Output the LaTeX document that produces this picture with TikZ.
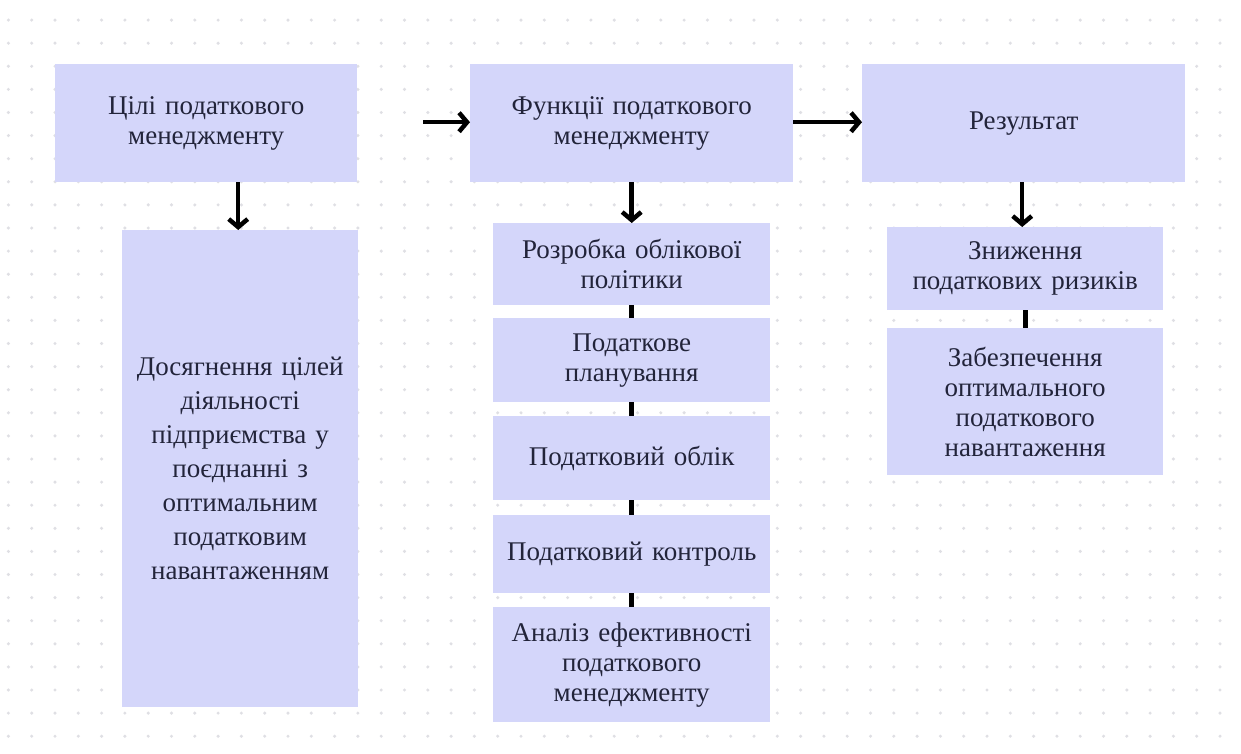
\documentclass[tikz,border=0pt]{standalone}
\usepackage{fontspec}
\setmainfont{Liberation Serif}
\usetikzlibrary{arrows.meta,calc}
\definecolor{boxfill}{HTML}{D4D6FA}
\definecolor{ink}{HTML}{22243A}
\definecolor{dotgray}{HTML}{DFDFE4}
\tikzset{
  block/.style={fill=boxfill, draw=none, anchor=north west, inner sep=4pt,
    align=center, text=ink, font=\fontsize{27}{30}\selectfont},
  flow/.style={line width=4.5pt, draw=black,
    -{Straight Barb[length=8pt,width=19pt,line width=4.5pt]}},
  joint/.style={line width=5pt, draw=black}
}
\begin{document}
\begin{tikzpicture}[x=1pt,y=-1pt]
  % canvas
  \fill[white] (0,0) rectangle (1241,754);
  \useasboundingbox (0,0) rectangle (1241,754);
  % dotted background grid
  \foreach \i in {0,...,52}{
    \foreach \j in {0,...,32}{
      \fill[dotgray] (8.4+23.3*\i, -3+23.1*\j) circle (1.7);
    }
  }
  % top row
  \node[block, minimum width=302pt, minimum height=118pt, text width=280pt] (goal) at (55,64)
    {Цілі податкового\\менеджменту};
  \node[block, minimum width=323pt, minimum height=118pt, text width=300pt] (func) at (470,64)
    {Функції податкового\\менеджменту};
  \node[block, minimum width=323pt, minimum height=118pt, text width=300pt] (res) at (862,64)
    {Результат};
  % left column
  \node[block, minimum width=236pt, minimum height=477pt, text width=226pt,
        font=\fontsize{27}{34}\selectfont] (aim) at (122,230)
    {Досягнення цілей\\діяльності\\підприємства у\\поєднанні з\\оптимальним\\податковим\\навантаженням};
  % middle column
  \node[block, minimum width=277pt, minimum height=82pt, text width=268pt] (f1) at (493,223)
    {Розробка облікової\\політики};
  \node[block, minimum width=277pt, minimum height=84pt, text width=268pt] (f2) at (493,318)
    {Податкове\\планування};
  \node[block, minimum width=277pt, minimum height=84pt, text width=268pt] (f3) at (493,416)
    {Податковий облік};
  \node[block, minimum width=277pt, minimum height=78pt, text width=268pt] (f4) at (493,515)
    {Податковий контроль};
  \node[block, minimum width=277pt, minimum height=115pt, text width=268pt] (f5) at (493,607)
    {Аналіз ефективності\\податкового\\менеджменту};
  % right column
  \node[block, minimum width=276pt, minimum height=83pt, text width=268pt] (r1) at (887,227)
    {Зниження\\податкових ризиків};
  \node[block, minimum width=276pt, minimum height=147pt, text width=268pt] (r2) at (887,328)
    {Забезпечення\\оптимального\\податкового\\навантаження};
  % horizontal arrows
  \coordinate (gstart) at ($(goal.east)+(66,-1)$);
  \draw[flow] (gstart) -- (gstart -| func.west);
  \draw[flow] ($(func.east)+(0,-1)$) -- ($(res.west)+(0,-1)$);
  % downward arrows
  \draw[flow] (goal.south -| aim.north) ++(-2,0) coordinate (ga) (ga) -- (ga |- aim.north);
  \draw[flow] (func.south) -- (f1.north);
  \draw[flow] (res.south -| r1.north) ++(-3,0) coordinate (ra) (ra) -- (ra |- r1.north);
  % joints between stacked boxes
  \draw[joint] (f1.south) -- (f2.north);
  \draw[joint] (f2.south) -- (f3.north);
  \draw[joint] (f3.south) -- (f4.north);
  \draw[joint] (f4.south) -- (f5.north);
  \draw[joint] (r1.south) -- (r2.north);
\end{tikzpicture}
\end{document}
